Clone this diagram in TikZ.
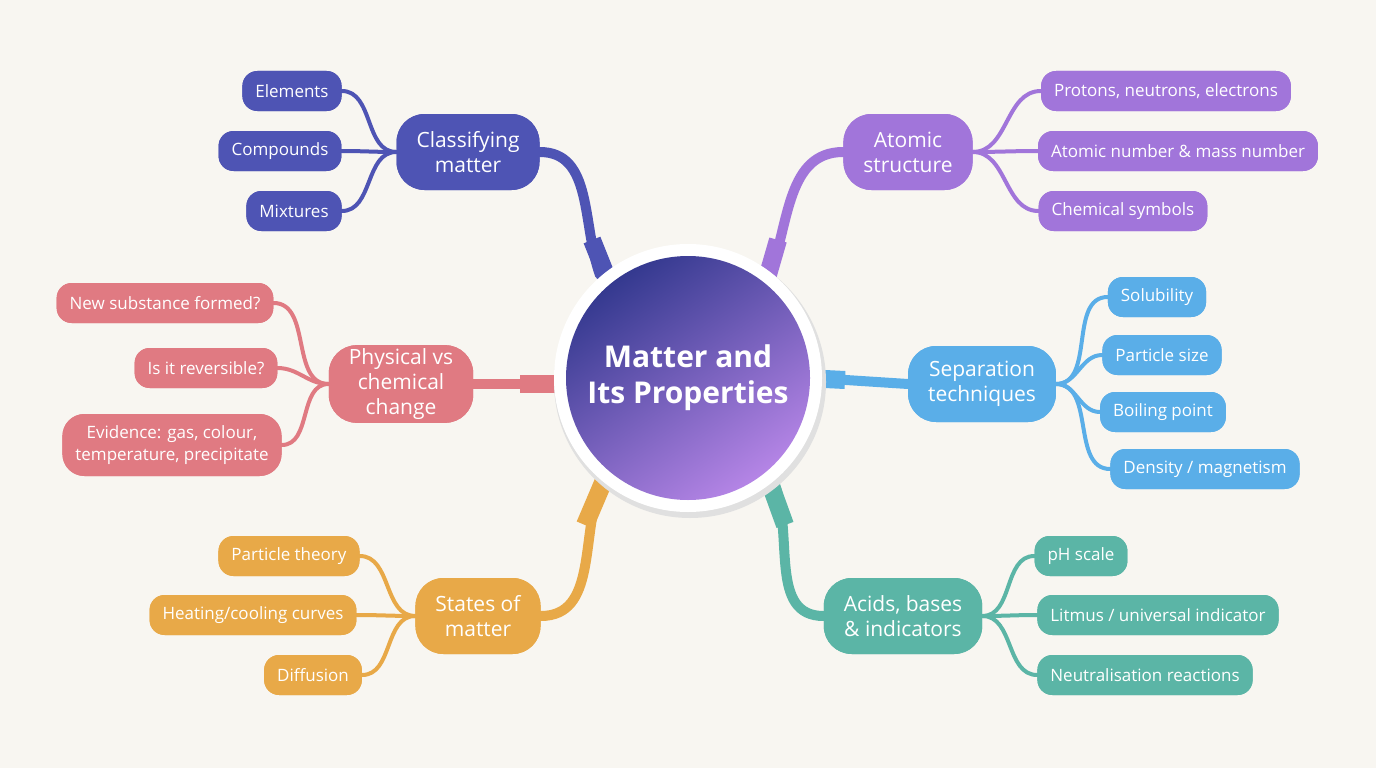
\documentclass[tikz,border=0pt]{standalone}
\usepackage{fontspec}
\setmainfont{Open Sans}
\definecolor{bg}{HTML}{F8F6F1}
\definecolor{cA}{HTML}{4E54B4}
\definecolor{cB}{HTML}{A175DA}
\definecolor{cC}{HTML}{E07A82}
\definecolor{cD}{HTML}{5AAEE8}
\definecolor{cE}{HTML}{E8A948}
\definecolor{cF}{HTML}{5BB5A6}
\definecolor{gA}{HTML}{34398F}
\definecolor{gB}{HTML}{B585E6}
\begin{document}
\begin{tikzpicture}[x=1pt,y=-1pt,
 leaf/.style={fill=#1,text=white,rounded corners=15pt,minimum height=40pt,inner xsep=13pt,font=\fontsize{17}{20}\selectfont,align=center},
 br/.style={fill=#1,text=white,rounded corners=28pt,minimum height=76pt,inner xsep=20pt,font=\fontsize{21}{25}\selectfont,align=center},
 tw/.style={draw=#1,line width=4pt,line cap=round},
 th/.style={draw=#1,line width=10pt,line cap=round},
 tk/.style={draw=#1,line width=18pt}]
\fill[bg] (0,0) rectangle (1376,768);
\useasboundingbox (0,0) rectangle (1376,768);
% branches (positions)
\node[br=cA] (A) at (468,152) {Classifying\\matter};
\node[br=cB] (B) at (908,152) {Atomic\\structure};
\node[br=cC] (C) at (401,384) {Physical vs\\chemical\\change};
\node[br=cD] (D) at (982,384) {Separation\\techniques};
\node[br=cE] (E) at (478,616) {States of\\matter};
\node[br=cF] (F) at (903,616) {Acids, bases\\\& indicators};
\node[leaf=cA] (A1) at (292,91) {Elements};
\node[leaf=cA] (A2) at (280,151) {Compounds};
\node[leaf=cA] (A3) at (294,211) {Mixtures};
\node[leaf=cB] (B1) at (1166,91) {Protons, neutrons, electrons};
\node[leaf=cB] (B2) at (1178,151) {Atomic number \& mass number};
\node[leaf=cB] (B3) at (1123,211) {Chemical symbols};
\node[leaf=cC] (C1) at (165,303) {New substance formed?};
\node[leaf=cC] (C2) at (206,368) {Is it reversible?};
\node[leaf=cC,minimum height=62pt,rounded corners=22pt,font=\fontsize{17}{22}\selectfont] (C3) at (172,445) {Evidence: gas, colour,\\temperature, precipitate};
\node[leaf=cD] (D1) at (1157,297) {Solubility};
\node[leaf=cD] (D2) at (1162,355) {Particle size};
\node[leaf=cD] (D3) at (1163,412) {Boiling point};
\node[leaf=cD] (D4) at (1205,469) {Density / magnetism};
\node[leaf=cE] (E1) at (289,556) {Particle theory};
\node[leaf=cE] (E2) at (253,615) {Heating/cooling curves};
\node[leaf=cE] (E3) at (313,675) {Diffusion};
\node[leaf=cF] (F1) at (1081,556) {pH scale};
\node[leaf=cF] (F2) at (1158,615) {Litmus / universal indicator};
\node[leaf=cF] (F3) at (1145,675) {Neutralisation reactions};
% leaf connectors
\foreach \l in {A1,A2,A3} \draw[tw=cA] (A.west) to[out=180,in=0] (\l.east);
\foreach \l in {B1,B2,B3} \draw[tw=cB] (B.east) to[out=0,in=180] (\l.west);
\foreach \l in {C1,C2,C3} \draw[tw=cC] (C.west) to[out=180,in=0] (\l.east);
\foreach \l in {D1,D2,D3,D4} \draw[tw=cD] (D.east) to[out=0,in=180] (\l.west);
\foreach \l in {E1,E2,E3} \draw[tw=cE] (E.west) to[out=180,in=0] (\l.east);
\foreach \l in {F1,F2,F3} \draw[tw=cF] (F.east) to[out=0,in=180] (\l.west);
% trunks
\coordinate (M) at (688,378);
\draw[th=cA] (A.east) to[out=0,in=110] (600,275);
\draw[th=cB] (B.west) to[out=180,in=70] (770,275);
\draw[th=cC] (C.east) -- (560,384);
\draw[th=cD] (D.west) -- (815,378);
\draw[th=cE] (E.east) to[out=0,in=-110] (600,485);
\draw[th=cF] (F.west) to[out=180,in=-70] (775,485);
\draw[tk=cA] (592,240) -- (610,285);
\draw[tk=cB] (778,240) -- (765,285);
\draw[tk=cC] (520,384) -- (570,384);
\draw[tk=cD] (845,380) -- (805,378);
\draw[tk=cE] (585,525) -- (605,478);
\draw[tk=cF] (785,525) -- (768,478);
\fill[black!12] (690,382) circle (136);
\fill[white] (M) circle (134);
\shade[top color=gA,bottom color=gB,shading angle=35] (M) circle (122);
\node[text=white,font=\bfseries\fontsize{30}{36}\selectfont,align=center] (Mt) at (M) {Matter and\\Its Properties};
% redraw nodes over connectors
\node[leaf=cA] at (A1) {Elements};
\node[leaf=cA] at (A2) {Compounds};
\node[leaf=cA] at (A3) {Mixtures};
\node[leaf=cB] at (B1) {Protons, neutrons, electrons};
\node[leaf=cB] at (B2) {Atomic number \& mass number};
\node[leaf=cB] at (B3) {Chemical symbols};
\node[leaf=cC] at (C1) {New substance formed?};
\node[leaf=cC] at (C2) {Is it reversible?};
\node[leaf=cC,minimum height=62pt,rounded corners=22pt,font=\fontsize{17}{22}\selectfont] at (C3) {Evidence: gas, colour,\\temperature, precipitate};
\node[leaf=cD] at (D1) {Solubility};
\node[leaf=cD] at (D2) {Particle size};
\node[leaf=cD] at (D3) {Boiling point};
\node[leaf=cD] at (D4) {Density / magnetism};
\node[leaf=cE] at (E1) {Particle theory};
\node[leaf=cE] at (E2) {Heating/cooling curves};
\node[leaf=cE] at (E3) {Diffusion};
\node[leaf=cF] at (F1) {pH scale};
\node[leaf=cF] at (F2) {Litmus / universal indicator};
\node[leaf=cF] at (F3) {Neutralisation reactions};
\node[br=cA] at (A) {Classifying\\matter};
\node[br=cB] at (B) {Atomic\\structure};
\node[br=cC] at (C) {Physical vs\\chemical\\change};
\node[br=cD] at (D) {Separation\\techniques};
\node[br=cE] at (E) {States of\\matter};
\node[br=cF] at (F) {Acids, bases\\\& indicators};
\end{tikzpicture}
\end{document}
